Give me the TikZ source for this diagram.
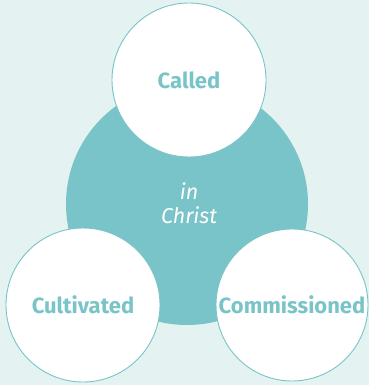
\documentclass[tikz,border=0pt]{standalone}
\usepackage{fontspec}
\setmainfont{Fira Sans}
\definecolor{teal1}{HTML}{79C4C8}
\definecolor{bg}{HTML}{E4F2F2}
\begin{document}
\begin{tikzpicture}[x=1pt,y=-1pt,
  outer/.style={circle,draw=teal1,line width=0.9pt,fill=white,minimum size=154pt,inner sep=0pt,
    text=teal1,font=\fontsize{22}{26}\selectfont\bfseries},
  core/.style={circle,fill=teal1,minimum size=242pt,inner sep=0pt},
  coretext/.style={text=white,font=\fontsize{21.5}{24}\selectfont\itshape,align=center}]
\fill[bg] (0,0) rectangle (369,385);
\useasboundingbox (0,0) rectangle (369,385);
\node[core] (c) at (187,204) {};
\node[coretext] (ct) at (189,203) {in\\Christ};
\node[outer] (a) at (189,80) {Called};
\node[outer] (b) at (83,305) {Cultivated};
\node[outer,minimum size=152pt] (d) at (292,305) {Commissioned};
\end{tikzpicture}
\end{document}
